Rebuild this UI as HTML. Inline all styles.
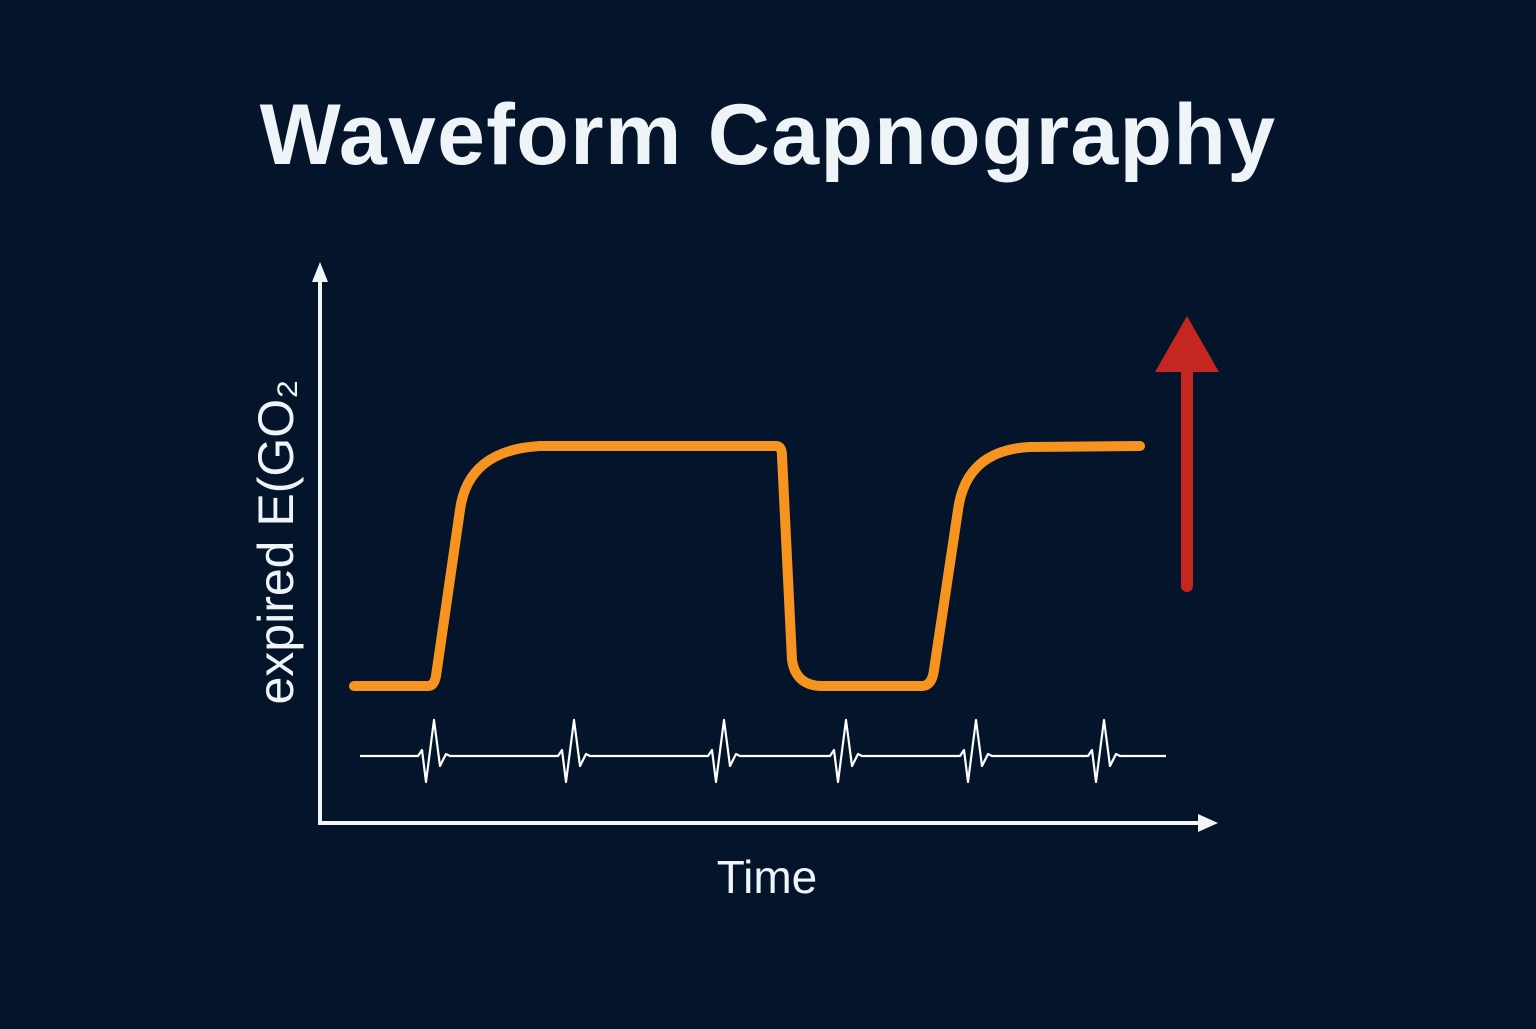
<!DOCTYPE html>
<html><head><style>
html,body{margin:0;padding:0;background:#04152b;}
</style></head><body>
<svg width="1536" height="1024" viewBox="0 0 1536 1024" xmlns="http://www.w3.org/2000/svg">
<rect width="1536" height="1024" fill="#04152b"/>
<text x="768" y="164" text-anchor="middle" font-family="Liberation Sans, sans-serif" font-weight="bold" font-size="86" letter-spacing="1.3" fill="#eef4f8">Waveform Capnography</text>
<g stroke="#f2f5f8" stroke-width="4" fill="none">
<line x1="320" y1="278" x2="320" y2="824"/>
<line x1="318" y1="823" x2="1202" y2="823"/>
</g>
<polygon points="320,262 312,282 328,282" fill="#f2f5f8"/>
<polygon points="1218,823 1198,814 1198,832" fill="#f2f5f8"/>
<text transform="translate(293,542) rotate(-90)" text-anchor="middle" font-family="Liberation Sans, sans-serif" font-size="50" fill="#eef4f8">expired E(GO₂</text>
<text x="767" y="893" text-anchor="middle" font-family="Liberation Sans, sans-serif" font-size="46" fill="#eef4f8">Time</text>
<path d="M354,686 L428,686 Q434,686 436,676 L460,510 Q468,450 540,446 L776,446 Q782,446 782,456 L792,660 Q796,686 822,686 L922,686 Q932,686 934,670 L958,510 Q966,450 1030,447 L1140,446" stroke="#f79420" stroke-width="10" fill="none" stroke-linecap="round" stroke-linejoin="round"/>
<path d="M360,756 L418,756 L422,750 L426,782 L434,720 L440,766 L446,754 L450,756 L558,756 L562,750 L566,782 L574,720 L580,766 L586,754 L590,756 L708,756 L712,750 L716,782 L724,720 L730,766 L736,754 L740,756 L830,756 L834,750 L838,782 L846,720 L852,766 L858,754 L862,756 L960,756 L964,750 L968,782 L976,720 L982,766 L988,754 L992,756 L1088,756 L1092,750 L1096,782 L1104,720 L1110,766 L1116,754 L1120,756 L1166,756" stroke="#ffffff" stroke-width="2.2" fill="none" stroke-linejoin="round"/>
<line x1="1187" y1="586" x2="1187" y2="366" stroke="#c42620" stroke-width="12" stroke-linecap="round"/>
<polygon points="1187,316 1155,372 1219,372" fill="#c42620"/>
</svg>
</body></html>
